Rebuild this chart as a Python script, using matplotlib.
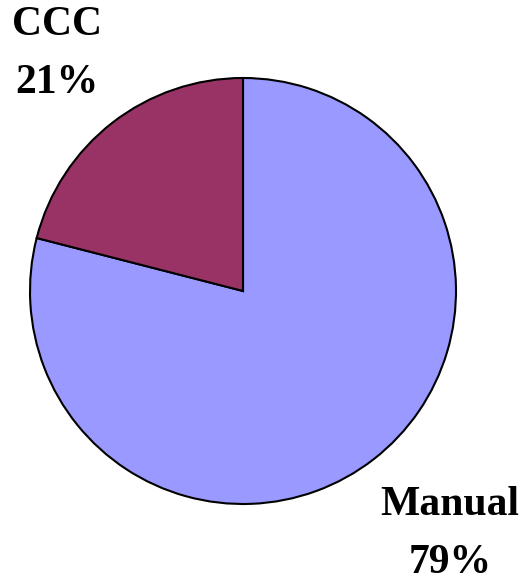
import matplotlib
matplotlib.use("Agg")
import matplotlib.pyplot as plt

# Share of work by method
categories = ["Manual", "CCC"]
shares = [79, 21]
colors = ["#9999FF", "#993366"]

W, H = 526, 578
fig = plt.figure(figsize=(W / 100, H / 100), dpi=100)
ax = fig.add_axes([0, 0, 1, 1])

cx, cy, r = 243, H - 291, 213
ax.pie(shares, colors=colors, startangle=90, counterclock=False,
       center=(cx, cy), radius=r,
       wedgeprops=dict(edgecolor="black", linewidth=1.5))
ax.set_xlim(0, W)
ax.set_ylim(0, H)
ax.set_aspect("equal", adjustable="box")
ax.axis("off")

font = dict(family="Liberation Serif", fontweight="bold", fontsize=30,
            ha="center", va="center", linespacing=1.7)
label_pos = {"CCC": (57, H - 54), "Manual": (450, H - 534)}
for name, val in zip(categories, shares):
    x, y = label_pos[name]
    ax.text(x, y, f"{name}\n{val}%", **font)

fig.savefig("out.png", dpi=100)
